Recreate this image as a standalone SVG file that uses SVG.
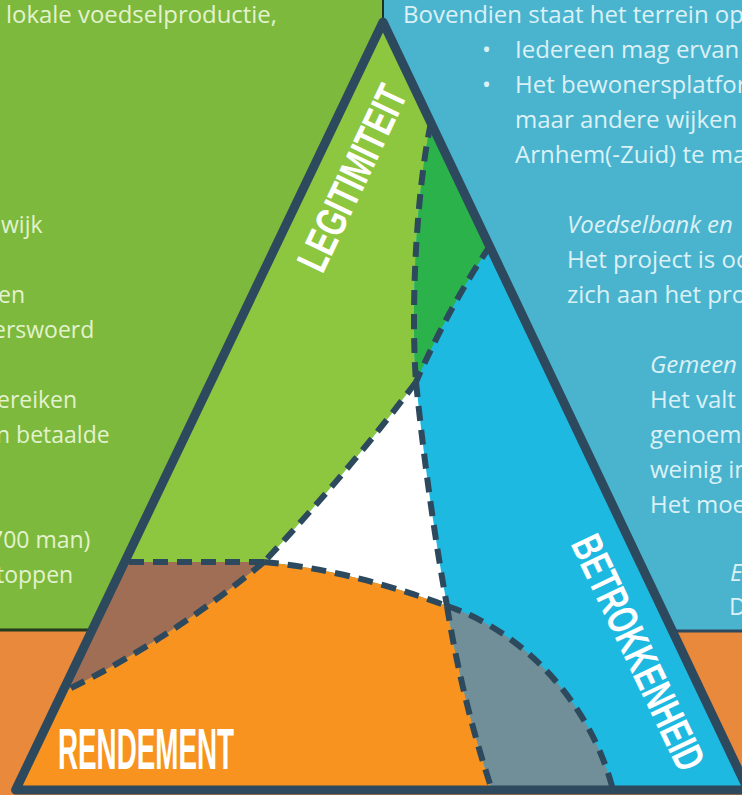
<svg xmlns="http://www.w3.org/2000/svg" width="742" height="795" viewBox="0 0 742 795">
<defs>
<clipPath id="tri"><path d="M383,22 L748,790 L15.6,790 Z"/></clipPath>
</defs>
<style>
.body{font-family:"Open Sans","Liberation Sans",sans-serif;font-size:23px}
.lt{fill:#e3f2cf}
.rt{fill:#dbf1f6;font-size:24px}
.it{font-style:italic}
.dash{fill:none;stroke:#2d495e;stroke-width:6;stroke-dasharray:15 9}
.lbl{font-family:"Liberation Sans",Arial,sans-serif;font-weight:bold;fill:#ffffff}
</style>
<g id="panels">
<rect x="0" y="0" width="742" height="795" fill="#e8893c"/>
<rect x="0" y="0" width="383" height="630" fill="#7db93c"/>
<rect x="383" y="0" width="359" height="631" fill="#4ab4cf"/>
<line x1="0" y1="630" x2="383" y2="630" stroke="#263a1e" stroke-width="3"/>
<line x1="383" y1="631" x2="742" y2="631" stroke="#2d495e" stroke-width="3"/>
<line x1="383" y1="0" x2="383" y2="630" stroke="#1e3322" stroke-width="2"/>
</g>
<g id="left-text" class="body lt">
<text x="6" y="23" textLength="271" lengthAdjust="spacingAndGlyphs">lokale voedselproductie,</text>
<text x="1" y="233">wijk</text>
<text x="-2" y="303">en</text>
<text x="-7" y="338">erswoerd</text>
<text x="-3" y="408">ereiken</text>
<text x="-4" y="443">n betaalde</text>
<text x="-10" y="548">700 man)</text>
<text x="-4" y="583">toppen</text>
</g>
<g id="right-text" class="body rt">
<text x="403" y="23">Bovendien staat het terrein op</text>
<text x="482" y="58">•</text>
<text x="515" y="58">Iedereen mag ervan</text>
<text x="482" y="93">•</text>
<text x="515" y="93">Het bewonersplatfor</text>
<text x="515" y="128">maar andere wijken</text>
<text x="515" y="163">Arnhem(-Zuid) te ma</text>
<text x="567" y="233" class="it">Voedselbank en</text>
<text x="567" y="268">Het project is oo</text>
<text x="567" y="303">zich aan het pro</text>
<text x="650" y="373" class="it">Gemeen</text>
<text x="650" y="408">Het valt</text>
<text x="650" y="443">genoeme</text>
<text x="650" y="478">weinig in</text>
<text x="650" y="513">Het moe</text>
<text x="730" y="581" class="it">E</text>
<text x="729" y="615">D</text>
</g>
<g id="triangle" clip-path="url(#tri)">
<path id="betrokkenheid-area" fill="#1eb9e1" d="M383,22 L748,790 L15.6,790 Z"/>
<path id="legitimiteit-area" fill="#8dc63f" d="M383,0 L470,123 L431,123 C418,180 410,300 416,382 Q350,470 264,562 L80,562 L383,0 Z"/>
<path id="overlap-lb" fill="#2bb24a" d="M431,123 L520,123 L520,246 L490,246 Q450,305 416,382 C410,300 418,180 431,123 Z"/>
<path id="center" fill="#ffffff" d="M416,382 Q350,470 264,562 Q350,570 447,606 Q428,500 416,382 Z"/>
<path id="overlap-lr" fill="#a06e55" d="M264,562 L80,562 L30,692 L63,692 Q170,640 264,562 Z"/>
<path id="rendement-area" fill="#f7931e" d="M63,692 Q170,640 264,562 Q350,570 447,606 Q462,700 492,790 L492,800 L0,800 L0,692 Z"/>
<path id="overlap-rb" fill="#708f98" d="M447,606 C520,630 590,700 613,790 L613,800 L492,800 L492,790 Q462,700 447,606 Z"/>
</g>
<g id="boundaries" clip-path="url(#tri)">
<path class="dash" d="M431,123 C418,180 410,300 416,382"/>
<path class="dash" d="M490,246 Q450,305 416,382"/>
<path class="dash" d="M416,382 Q350,470 264,562"/>
<path class="dash" d="M264,562 Q350,570 447,606"/>
<path class="dash" d="M416,382 Q428,500 447,606"/>
<path class="dash" d="M447,606 Q462,700 492,790"/>
<path class="dash" d="M447,606 C520,630 590,700 613,790"/>
<path class="dash" d="M264,562 L118,562"/>
<path class="dash" d="M264,562 Q170,640 63,692"/>
</g>
<g id="outline">
<path d="M383,22 L748,790 L15.6,790 Z" fill="none" stroke="#2d495e" stroke-width="9" stroke-linejoin="round"/>
</g>
<g id="labels">
<text class="lbl" font-size="43" text-anchor="middle" textLength="200" lengthAdjust="spacingAndGlyphs" transform="translate(365.5,184.4) rotate(-64.6)">LEGITIMITEIT</text>
<text class="lbl" font-size="43" text-anchor="middle" textLength="255" lengthAdjust="spacingAndGlyphs" transform="translate(625,659) rotate(64.6)">BETROKKENHEID</text>
<text class="lbl" x="58" y="769" font-size="57" textLength="176" lengthAdjust="spacingAndGlyphs">RENDEMENT</text>
</g>
</svg>
